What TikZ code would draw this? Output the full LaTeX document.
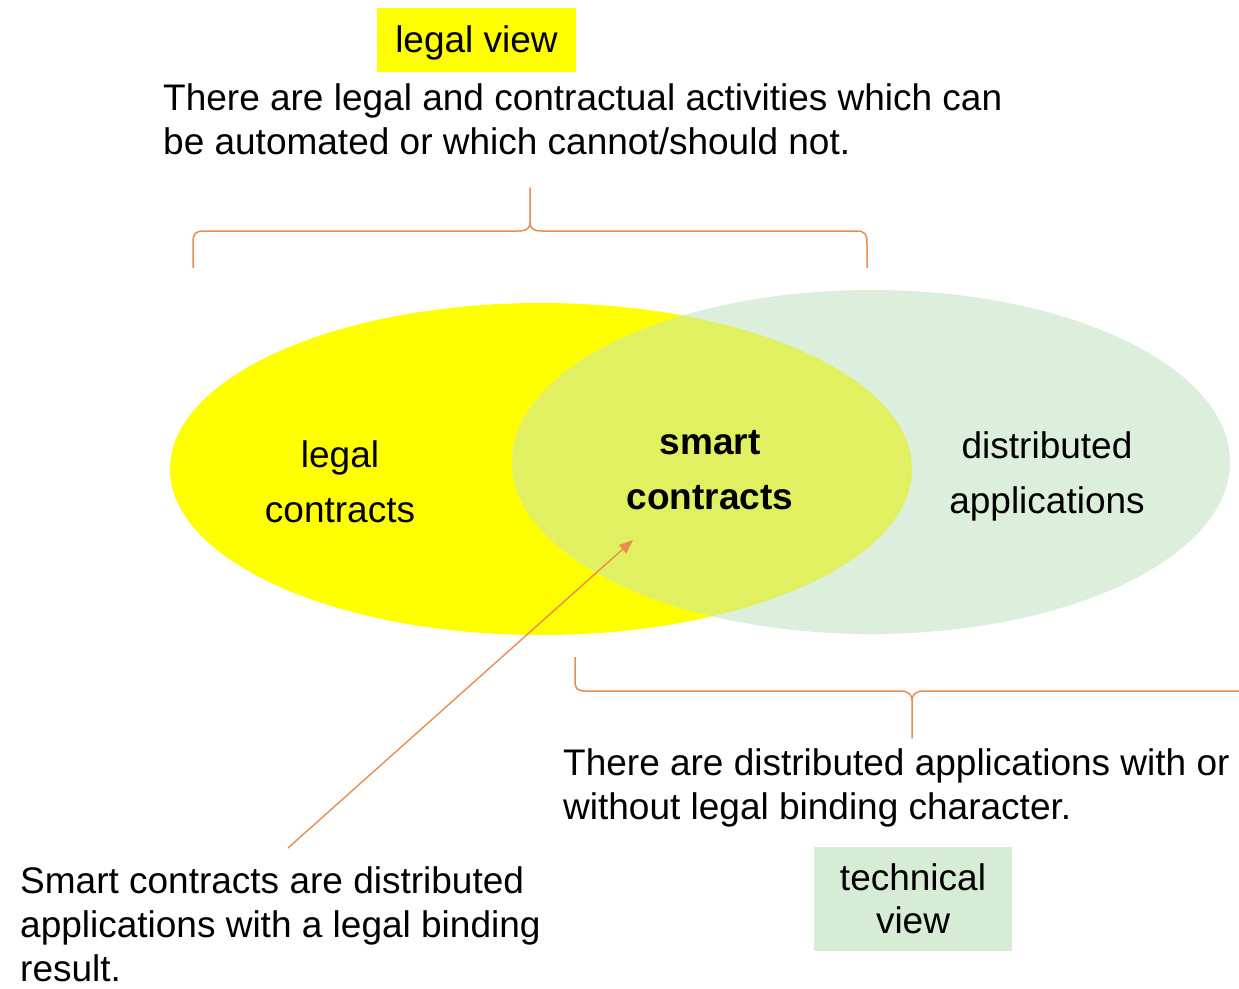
\documentclass[tikz,border=0pt]{standalone}
\usepackage{fontspec}
\setmainfont{Liberation Sans}
\usetikzlibrary{arrows.meta}
\definecolor{lyel}{RGB}{255,255,0}
\definecolor{lgrn}{RGB}{220,238,220}
\definecolor{lmix}{RGB}{224,240,96}
\definecolor{lbox}{RGB}{214,236,212}
\definecolor{brc}{RGB}{235,140,80}
\begin{document}
\begin{tikzpicture}[x=1pt,y=-1pt,
  txt/.style={font=\fontsize{37}{44}\selectfont, inner sep=0pt},
  lbl/.style={font=\fontsize{37}{55}\selectfont, inner sep=0pt, align=center},
  bracestyle/.style={draw=brc, line width=1.5pt, line join=round},
  pointer/.style={draw=brc, line width=1.4pt, -{Triangle[length=14pt,width=11pt]}}]
\useasboundingbox (0,0) rectangle (1239,988);
\fill[white] (0,0) rectangle (1239,988);

% Venn ellipses
\fill[lyel] (541,469) ellipse [x radius=371, y radius=166];
\fill[lgrn] (871,462) ellipse [x radius=359, y radius=172];
\begin{scope}
  \clip (541,469) ellipse [x radius=371, y radius=166];
  \fill[lmix] (871,462) ellipse [x radius=359, y radius=172];
\end{scope}

% labels in ellipses
\node[lbl] (lc) at (340,482) {legal\\contracts};
\node[lbl, font=\fontsize{37}{55}\selectfont\bfseries] (sc) at (710,470) {smart\\contracts};
\node[lbl] (da) at (1047,476) {distributed\\applications};

% legal view
\node[txt, fill=lyel, minimum width=199, minimum height=64, text height=27pt, text depth=3pt] (lv) at (476.5,40) {legal view};
\node[txt, align=left, anchor=west] (p1) at (163,119)
  {There are legal and contractual activities which can\\be automated or which cannot/should not.};

% top brace
\draw[bracestyle] (193,268) -- (193,243) .. controls (193,234) and (195,231) .. (204,231)
  -- (518,231) .. controls (526,231) and (530,229) .. (530,222) -- (530,188)
  -- (530,222) .. controls (530,229) and (534,231) .. (542,231)
  -- (856,231) .. controls (865,231) and (867,234) .. (867,243) -- (867,268);

% bottom brace
\draw[bracestyle] (575,657) -- (575,680) .. controls (575,689) and (577,691) .. (586,691)
  -- (900,691) .. controls (908,691) and (912,694) .. (912,701) -- (912,738)
  -- (912,701) .. controls (912,694) and (916,691) .. (924,691) -- (1239,691);

\node[txt, align=left, anchor=west] (p2) at (563,788)
  {There are distributed applications with or\\without legal binding character.};
\node[txt, align=center, fill=lbox, minimum width=198, minimum height=104,
  font=\fontsize{37}{43}\selectfont] (tv) at (913,899) {technical\\view};

% bottom-left statement and arrow
\node[txt, align=left, anchor=west] (p3) at (20,924)
  {Smart contracts are distributed\\applications with a legal binding\\result.};
\coordinate (aS) at (288,848);
\coordinate (aE) at (633,540);
\draw[pointer] (aS) -- (aE);
\end{tikzpicture}
\end{document}
